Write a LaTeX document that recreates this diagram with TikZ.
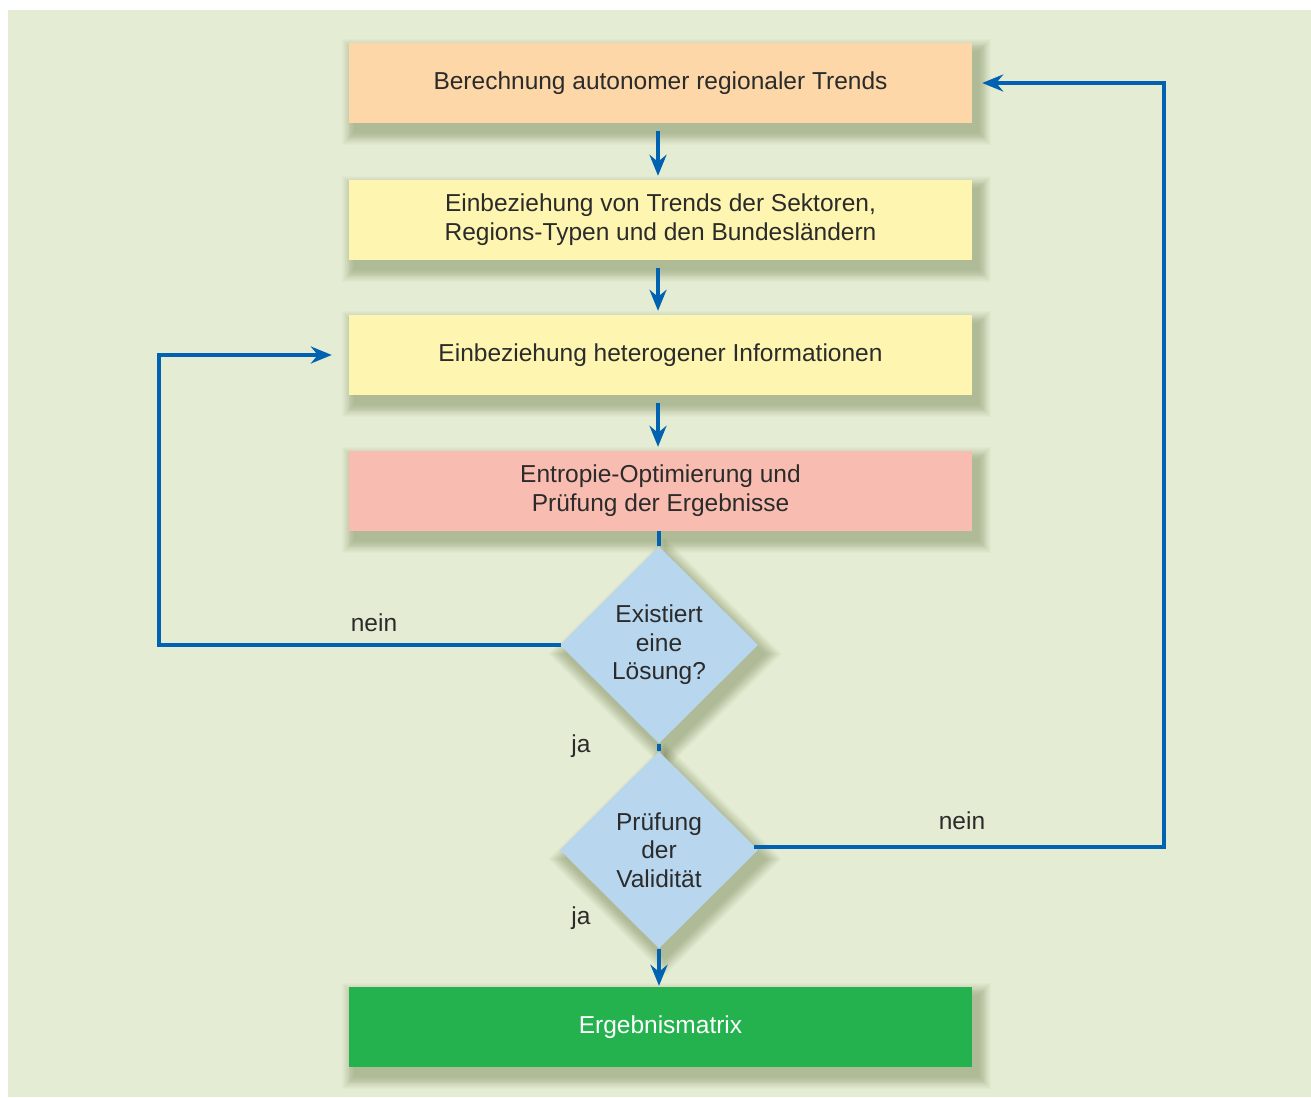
\documentclass[tikz,border=0pt]{standalone}
\usepackage{fontspec}
\setmainfont{Liberation Sans}
\usetikzlibrary{shapes.geometric,arrows.meta,calc}
\definecolor{bg}{HTML}{E4EDD4}
\definecolor{cOrange}{HTML}{FDD7A7}
\definecolor{cYellow}{HTML}{FEF5B0}
\definecolor{cPink}{HTML}{F9BCB0}
\definecolor{cBlue}{HTML}{B8D6EE}
\definecolor{cGreen}{HTML}{24B24E}
\definecolor{cLine}{HTML}{0062B0}
\definecolor{cText}{HTML}{2B2B2B}
\definecolor{cShadow}{HTML}{3A4A10}
\pgfdeclarelayer{backlayer}
\pgfdeclarelayer{shadowlayer}
\pgfsetlayers{backlayer,shadowlayer,main}
\begin{document}
\begin{tikzpicture}[x=1pt,y=-1pt,
  boxnode/.style={rectangle,minimum width=623pt,minimum height=80pt,inner sep=0pt,align=center,
     font=\fontsize{24.5}{29}\selectfont,text=cText},
  dec/.style={diamond,minimum width=198pt,minimum height=197pt,inner sep=0pt,align=center,fill=cBlue,
     font=\fontsize{24.5}{28.5}\selectfont,text=cText},
  lbl/.style={font=\fontsize{24.5}{26}\selectfont,text=cText,inner sep=0pt},
  conn/.style={draw=cLine,line width=3.5pt},
  arr/.style={conn,-{Stealth[length=21pt,width=17pt,inset=7pt]}},
  shd/.style={fill=cShadow,fill opacity=0.025}]
\useasboundingbox (0,0) rectangle (1311,1097);
\begin{pgfonlayer}{backlayer}
\fill[white] (0,0) rectangle (1311,1097);
\fill[bg] (8,10) rectangle (1311,1097);
\end{pgfonlayer}
\node[boxnode,fill=cOrange] (b1) at (660.5,83) {Berechnung autonomer regionaler Trends};
\node[boxnode,fill=cYellow] (b2) at (660.5,220) {Einbeziehung von Trends der Sektoren,\\Regions-Typen und den Bundesländern};
\node[boxnode,fill=cYellow] (b3) at (660.5,355) {Einbeziehung heterogener Informationen};
\node[boxnode,fill=cPink] (b4) at (660.5,491) {Entropie-Optimierung und\\Prüfung der Ergebnisse};
\node[dec] (d1) at (659,645) {Existiert\\eine\\Lösung?};
\node[dec] (d2) at (659,850) {Prüfung\\der\\Validität};
\node[boxnode,fill=cGreen,text=white] (b5) at (660.5,1027) {Ergebnismatrix};
\begin{pgfonlayer}{shadowlayer}
\foreach \b in {b1,b2,b3,b4,b5}{
  \foreach \r in {1,...,14}{
    \fill[shd] ($(\b.north west)+(6-0.9*\r,9-0.9*\r)$) rectangle ($(\b.south east)+(6+0.9*\r,9+0.9*\r)$);
  }
}
\foreach \d in {d1,d2}{
  \foreach \r in {1,...,14}{
    \fill[shd] ($(\d.north)+(6,9-1.27*\r)$) -- ($(\d.east)+(6+1.27*\r,9)$) -- ($(\d.south)+(6,9+1.27*\r)$) -- ($(\d.west)+(6-1.27*\r,9)$) -- cycle;
  }
}
\end{pgfonlayer}
\coordinate (lx) at (159,0);
\coordinate (rx) at (1164,0);
\coordinate (cx) at (658,0);
\draw[arr] ([yshift=-8pt]b1.south -| cx) -- ([yshift=4pt]b2.north -| cx);
\draw[arr] ([yshift=-8pt]b2.south -| cx) -- ([yshift=4pt]b3.north -| cx);
\draw[arr] ([yshift=-8pt]b3.south -| cx) -- ([yshift=4pt]b4.north -| cx);
\draw[conn] (b4.south -| d1.north) -- (d1.north);
\draw[conn] (d1.south) -- (d2.north);
\draw[arr] (d2.south) -- ([yshift=1pt]b5.north -| d2.south);
\draw[arr] ([xshift=1pt]d1.west) -- (d1.west -| lx) |- ([xshift=-17pt]b3.west);
\draw[arr] ([xshift=-4pt,yshift=3pt]d2.east) -- ([yshift=3pt]d2.east -| rx) |- ([xshift=10pt]b1.east);
\node[lbl] (n1) at (374,623) {nein};
\node[lbl] (j1) at (581,746) {ja};
\node[lbl] (n2) at (962,821) {nein};
\node[lbl] (j2) at (581,918) {ja};
\end{tikzpicture}
\end{document}
